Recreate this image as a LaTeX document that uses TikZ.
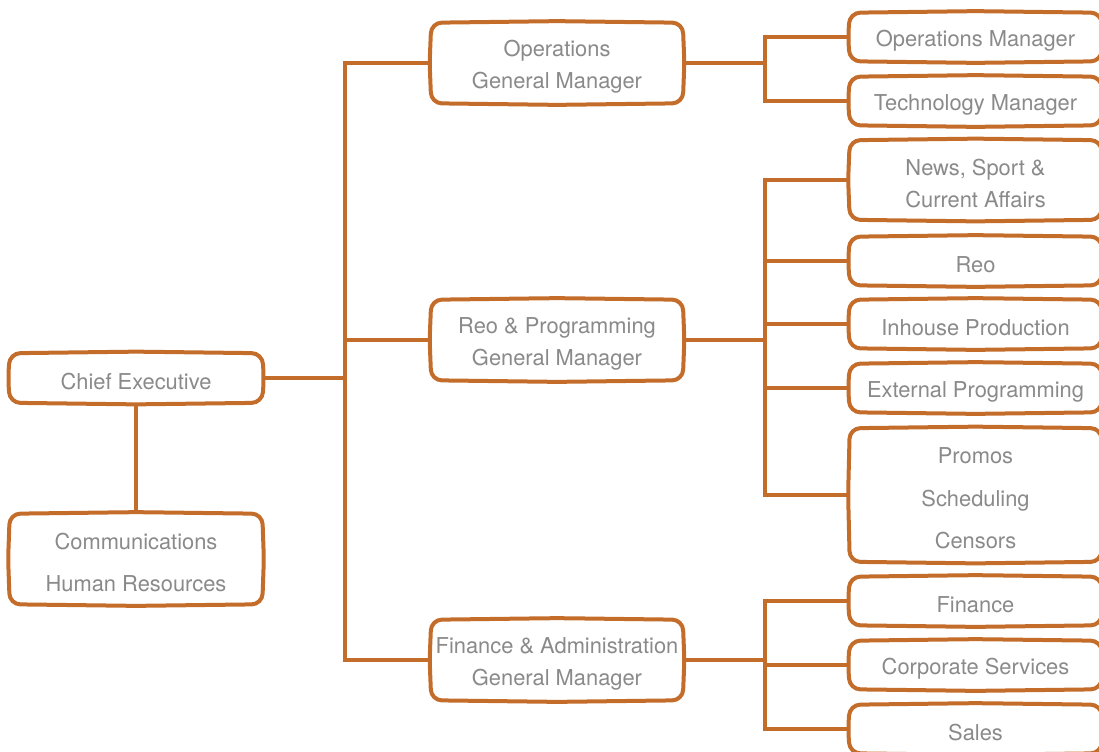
\documentclass[tikz,border=0pt]{standalone}
\usepackage{fontspec}
\setmainfont{TeX Gyre Heros}
\definecolor{org}{RGB}{196,108,42}
\definecolor{txt}{RGB}{138,138,138}
\pgfdeclarelayer{bg}
\pgfsetlayers{bg,main}
\newcommand\bulge[1]{%
  \draw[boxline]
  (#1.north west) -- ([yshift=1.2pt]#1.north) -- (#1.north east) -- ([xshift=1.2pt]#1.east) --
  (#1.south east) -- ([yshift=-1.2pt]#1.south) -- (#1.south west) -- ([xshift=-1.2pt]#1.west) -- cycle;}
\tikzset{
  ln/.style={draw=org, line width=3pt, line cap=rect},
  boxline/.style={draw=org, line width=3pt, fill=white, rounded corners=8pt},
  bx/.style={inner sep=0pt},
  lw/.style={bx, minimum width=189pt, minimum height=36.75pt},
  gm/.style={bx, minimum width=188.25pt, minimum height=60pt},
  rb/.style={bx, minimum width=188.25pt, minimum height=36pt},
  tx/.style={inner sep=0pt, align=center, text=txt, font=\fontsize{16.4pt}{24pt}\selectfont, yshift=-2.6pt},
  tx3/.style={tx, font=\fontsize{16.4pt}{32pt}\selectfont},
}
\begin{document}
\begin{tikzpicture}[x=0.75pt,y=-0.75pt]
\useasboundingbox (0,0) rectangle (1099,751);
% boxes
\node[lw] (ce) at (136,378) {};
\node[lw, minimum height=67.5pt] (hr) at (136,559) {};
\node[gm] (ops) at (557,63) {};
\node[gm] (reo) at (557,340) {};
\node[gm] (fin) at (557,660) {};
\node[rb] (om) at (975.5,37) {};
\node[rb] (tm) at (975.5,101) {};
\node[rb, minimum height=59.25pt] (ns) at (975.5,180) {};
\node[rb] (rr) at (975.5,261) {};
\node[rb] (ih) at (975.5,324) {};
\node[rb] (ep) at (975.5,388) {};
\node[rb, minimum height=99.75pt] (pr) at (975.5,495) {};
\node[rb] (fi) at (975.5,601) {};
\node[rb] (cs) at (975.5,665) {};
\node[rb] (sa) at (975.5,729) {};
% texts
\node[tx] (cet) at (ce) {Chief Executive};
\node[tx3] (hrt) at (hr) {Communications\\Human Resources};
\node[tx] (opst) at (ops) {Operations\\General Manager};
\node[tx] (reot) at (reo) {Reo \& Programming\\General Manager};
\node[tx] (fint) at (fin) {Finance \& Administration\\General Manager};
\node[tx] (omt) at (om) {Operations Manager};
\node[tx] (tmt) at (tm) {Technology Manager};
\node[tx] (nst) at (ns) {News, Sport \&\\Current Affairs};
\node[tx] (rrt) at (rr) {Reo};
\node[tx] (iht) at (ih) {Inhouse Production};
\node[tx] (ept) at (ep) {External Programming};
\node[tx3] (prt) at (pr) {Promos\\Scheduling\\Censors};
\node[tx] (fit) at (fi) {Finance};
\node[tx] (cst) at (cs) {Corporate Services};
\node[tx] (sat) at (sa) {Sales};
\coordinate (tx) at (345,0);
\coordinate (bx) at (765,0);
\begin{pgfonlayer}{bg}
  \draw[ln] (ce) -- (hr);
  \draw[ln] (ce.east) -- (ce.east -| tx);
  \draw[ln] (ops.west -| tx) -- (fin.west -| tx);
  \foreach \g in {ops,reo,fin} {
    \draw[ln] (\g.west -| tx) -- (\g.west);
    \draw[ln] (\g.east) -- (\g.east -| bx);
  }
  \draw[ln] (om.west -| bx) -- (tm.west -| bx);
  \draw[ln] (ns.west -| bx) -- (pr.west -| bx);
  \draw[ln] (fi.west -| bx) -- (sa.west -| bx);
  \foreach \r in {om,tm,ns,rr,ih,ep,pr,fi,cs,sa} {
    \draw[ln] (\r.west -| bx) -- (\r.west);
  }
  \foreach \b in {ce,hr,ops,reo,fin,om,tm,ns,rr,ih,ep,pr,fi,cs,sa} {\bulge{\b}}
\end{pgfonlayer}
\end{tikzpicture}
\end{document}
